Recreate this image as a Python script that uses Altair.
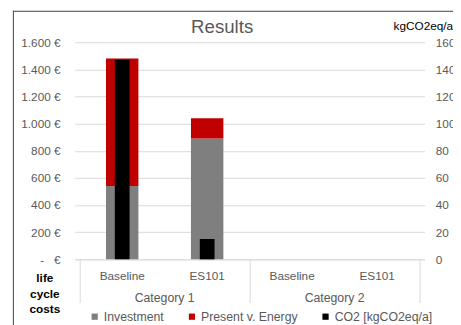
import altair as alt
import pandas as pd

# ---- data ----
categories = ["Category 1", "Category 2"]
scenarios = ["Baseline", "ES101", "Baseline", "ES101"]
investment = [540, 890, 0, 0]          # EUR
present_energy = [940, 150, 0, 0]      # EUR (stacked on investment)
co2 = [147, 15, 0, 0]                  # kgCO2eq/a
cost_ticks = [0, 200, 400, 600, 800, 1000, 1200, 1400, 1600]
co2_ticks = [0, 20, 40, 60, 80, 100, 120, 140, 160]
series_names = ["Investment", "Present v. Energy", "CO2 [kgCO2eq/a]"]
series_colors = ["#7f7f7f", "#c00000", "#000000"]

FONT = "Liberation Sans"
GRAY_TXT = "#595959"
GRID = "#d9d9d9"

pos = [i + 0.5 for i in range(len(scenarios))]
cat_pos = [1.0, 3.0]

cost_df = pd.DataFrame({
    "pos": pos + pos,
    "series": [series_names[0]] * 4 + [series_names[1]] * 4,
    "value": investment + present_energy,
    "order": [0] * 4 + [1] * 4,
})
co2_df = pd.DataFrame({"pos": pos, "series": series_names[2], "value": co2})
scen_df = pd.DataFrame({"pos": pos, "label": scenarios})
cat_df = pd.DataFrame({"pos": cat_pos, "label": categories})
one = pd.DataFrame({"a": [0]})

xs = alt.Scale(domain=[0, 4], nice=False, zero=False)
color = alt.Color(
    "series:N",
    scale=alt.Scale(domain=series_names, range=series_colors),
    legend=alt.Legend(
        orient="none", legendX=14, legendY=273, direction="horizontal",
        title=None, symbolType="square", symbolSize=40, symbolStrokeWidth=0,
        labelFontSize=12.5, labelColor=GRAY_TXT, labelFont=FONT,
        labelOffset=3, columnPadding=22, padding=0,
    ),
)

zero_label = "-\u00a0\u00a0\u00a0€"
label_expr = (
    f"datum.value == 0 ? '{zero_label}' : "
    "replace(format(datum.value, ','), ',', '.') + ' €'"
)

cost_bars = alt.Chart(cost_df).mark_bar(size=33).encode(
    x=alt.X("pos:Q", scale=xs, axis=alt.Axis(
        values=[0, 2, 4], labels=False, ticks=True, tickSize=44,
        tickColor=GRID, domainColor=GRID, grid=False, title=None)),
    y=alt.Y("value:Q", stack="zero",
            scale=alt.Scale(domain=[0, 1600], nice=False),
            axis=alt.Axis(
                orient="left", values=cost_ticks, labelExpr=label_expr,
                grid=True, gridColor=GRID, domain=False, ticks=False,
                tickSize=0, labelPadding=15, labelFontSize=12,
                labelColor=GRAY_TXT, labelFont=FONT,
                title=["life", "cycle", "costs"], titleAngle=0,
                titleX=-31, titleY=235, titleAlign="center",
                titleBaseline="top", titleFontWeight="bold",
                titleColor="black", titleFontSize=12, titleFont=FONT,
                titleLineHeight=15.5)),
    color=color,
    order=alt.Order("order:Q"),
)

co2_bars = alt.Chart(co2_df).mark_bar(size=15).encode(
    x=alt.X("pos:Q", scale=xs),
    y=alt.Y("value:Q", scale=alt.Scale(domain=[0, 160], nice=False),
            axis=alt.Axis(
                orient="right", values=co2_ticks, grid=False, domain=False,
                ticks=False, tickSize=0, labelPadding=11, labelFontSize=12,
                labelColor=GRAY_TXT, labelFont=FONT,
                title="kgCO2eq/a", titleAngle=0, titleX=-32, titleY=-17,
                titleAlign="left", titleBaseline="middle",
                titleFontWeight="normal", titleColor="black",
                titleFontSize=12, titleFont=FONT)),
    color=color,
)

scen_text = alt.Chart(scen_df).mark_text(
    fontSize=12, color=GRAY_TXT, font=FONT, baseline="middle"
).encode(x=alt.X("pos:Q", scale=xs), y=alt.value(238), text="label:N")

cat_text = alt.Chart(cat_df).mark_text(
    fontSize=12.5, color=GRAY_TXT, font=FONT, baseline="middle"
).encode(x=alt.X("pos:Q", scale=xs), y=alt.value(260), text="label:N")

frame_left = alt.Chart(one).mark_rule(color="#404040", strokeWidth=1).encode(
    x=alt.value(-62.5), y=alt.value(-32), y2=alt.value(300))
frame_top = alt.Chart(one).mark_rule(color="#404040", strokeWidth=1).encode(
    x=alt.value(-63), x2=alt.value(390), y=alt.value(-31.5))

chart = alt.layer(
    cost_bars, co2_bars, scen_text, cat_text, frame_left, frame_top
).resolve_scale(y="independent").properties(
    width=356, height=221,
    autosize=alt.AutoSizeParams(type="none"),
    padding={"left": 68, "top": 32, "right": 29, "bottom": 64},
    title=alt.TitleParams(
        "Results", fontSize=19, color=GRAY_TXT, fontWeight="normal",
        font=FONT, anchor="middle", frame="group", offset=0,
        baseline="middle", dx=-28, dy=36),
).configure_view(stroke=None)

chart.save("out.html", embed_options={"renderer": "svg", "actions": False})
